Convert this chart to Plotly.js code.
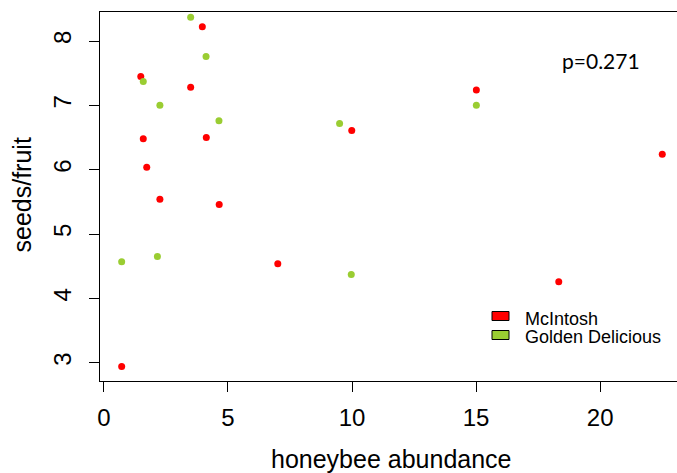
<!DOCTYPE html>
<html>
<head>
<meta charset="utf-8">
<script src="https://cdn.plot.ly/plotly-3.0.1.min.js"></script>
<style>
  html, body { margin: 0; padding: 0; background: #ffffff; }
  #chart { width: 677px; height: 473px; }
</style>
</head>
<body>
<div id="chart"></div>
<script>
// Seeds per fruit against honeybee abundance, two apple cultivars
const seriesNames = ["McIntosh", "Golden Delicious"];
const seriesColors = ["#FF0000", "#9ACD32"];

const mcintoshBees  = [0.72, 1.49, 1.59, 1.73, 2.26, 3.50, 3.97, 4.13, 4.65, 7.01, 9.99, 15.01, 18.33, 22.50];
const mcintoshSeeds = [2.94, 7.45, 6.48, 6.04, 5.54, 7.28, 8.22, 6.50, 5.46, 4.54, 6.61, 7.24, 4.26, 6.24];

const goldenBees  = [0.72, 1.59, 2.16, 2.26, 3.50, 4.12, 4.64, 9.50, 9.97, 15.01];
const goldenSeeds = [4.57, 7.37, 4.65, 7.00, 8.37, 7.76, 6.76, 6.72, 4.37, 7.00];

const xTicks = [0, 5, 10, 15, 20];
const yTicks = [3, 4, 5, 6, 7, 8];
const pValueLabel = "p=0.271";

// Page geometry (pixels)
const W = 677, H = 473;
const M = { l: 100, r: 0, t: 12, b: 92 };
const plotW = W - M.l - M.r, plotH = H - M.t - M.b;
const px = x => (x - M.l) / plotW;          // pixel x -> paper x
const py = y => (H - M.b - y) / plotH;      // pixel y -> paper y

const FONT = "Liberation Sans, Arial, Helvetica, sans-serif";

const traces = [
  { x: mcintoshBees, y: mcintoshSeeds, name: seriesNames[0] },
  { x: goldenBees,   y: goldenSeeds,   name: seriesNames[1] }
].map((t, i) => ({
  type: "scatter",
  mode: "markers",
  x: t.x, y: t.y, name: t.name,
  marker: { color: seriesColors[i], size: 7, line: { width: 0 } },
  showlegend: false,
  hoverinfo: "x+y+name"
}));

// Filled-box key drawn inside the plot, bottom right
const keyShapes = seriesNames.map((n, i) => {
  const cy = 316 + i * 19;
  return {
    type: "rect", xref: "paper", yref: "paper",
    x0: px(492), x1: px(509), y0: py(cy + 4.5), y1: py(cy - 4.5),
    fillcolor: seriesColors[i], line: { color: "#000000", width: 1 }
  };
});
const keyLabels = seriesNames.map((n, i) => ({
  xref: "paper", yref: "paper",
  x: px(523), y: py(318.5 + i * 18),
  xanchor: "left", yanchor: "middle",
  text: n, showarrow: false,
  font: { family: FONT, size: 18, color: "#000000" }
}));

const layout = {
  width: W, height: H,
  margin: M,
  paper_bgcolor: "#ffffff",
  plot_bgcolor: "#ffffff",
  showlegend: false,
  xaxis: {
    range: [-0.153, 23.094],
    tickmode: "array", tickvals: xTicks, ticktext: xTicks.map(String),
    ticks: "outside", ticklen: 10, tickwidth: 1, tickcolor: "#000000",
    ticklabelstandoff: 5,
    showline: true, mirror: true, linecolor: "#000000", linewidth: 1,
    showgrid: false, zeroline: false,
    tickfont: { family: FONT, size: 24, color: "#000000" }
  },
  yaxis: {
    range: [2.716, 8.451],
    tickmode: "array", tickvals: yTicks, ticktext: yTicks.map(String),
    tickangle: -90,
    ticks: "outside", ticklen: 10, tickwidth: 1, tickcolor: "#000000",
    ticklabelstandoff: 8,
    showline: true, mirror: false, linecolor: "#000000", linewidth: 1,
    showgrid: false, zeroline: false,
    tickfont: { family: FONT, size: 24, color: "#000000" }
  },
  shapes: keyShapes,
  annotations: [
    {
      xref: "paper", yref: "paper", x: px(392), y: py(459),
      xanchor: "center", yanchor: "middle",
      text: "honeybee abundance", showarrow: false,
      font: { family: FONT, size: 25, color: "#000000" }
    },
    {
      xref: "paper", yref: "paper", x: px(21), y: py(195.5),
      xanchor: "center", yanchor: "middle", textangle: -90,
      text: "seeds/fruit", showarrow: false,
      font: { family: FONT, size: 25, color: "#000000" }
    },
    {
      xref: "paper", yref: "paper", x: px(560), y: py(60),
      xanchor: "left", yanchor: "middle",
      text: pValueLabel, showarrow: false,
      font: { family: "Lato, Open Sans, sans-serif", size: 21, color: "#000000" }
    }
  ].concat(keyLabels)
};

Plotly.newPlot("chart", traces, layout, { displayModeBar: false, staticPlot: true });
</script>
</body>
</html>
